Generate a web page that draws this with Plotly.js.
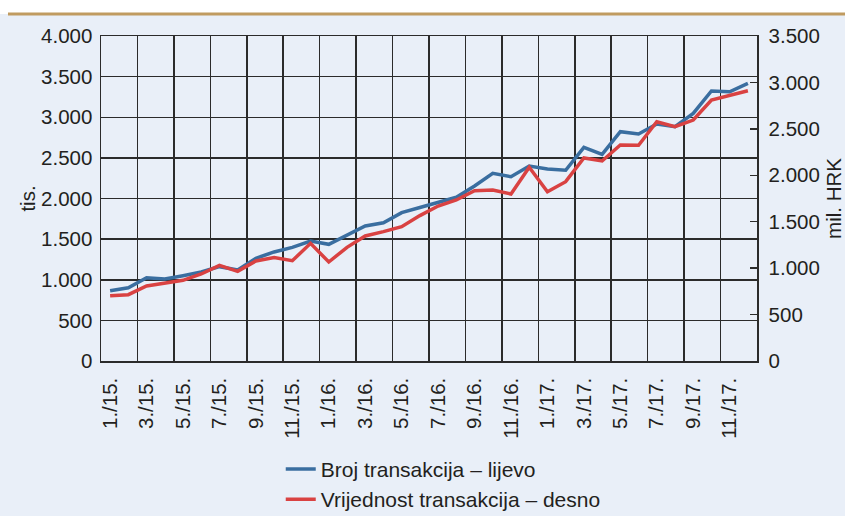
<!DOCTYPE html>
<html>
<head>
<meta charset="utf-8">
<script src="https://cdn.plot.ly/plotly-3.0.1.min.js"></script>
<style>
  html, body { margin: 0; padding: 0; background: #e9eff8; }
  #chart { width: 845px; height: 516px; }
</style>
</head>
<body>
<div id="chart"></div>
<script>
// Month labels (1./15. ... 12./17.)
const months = [
  "1./15.","2./15.","3./15.","4./15.","5./15.","6./15.","7./15.","8./15.","9./15.","10./15.","11./15.","12./15.",
  "1./16.","2./16.","3./16.","4./16.","5./16.","6./16.","7./16.","8./16.","9./16.","10./16.","11./16.","12./16.",
  "1./17.","2./17.","3./17.","4./17.","5./17.","6./17.","7./17.","8./17.","9./17.","10./17.","11./17.","12./17."
];
// Broj transakcija (tis.) – left axis
const brojTransakcija = [
  865, 902, 1025, 1009, 1050, 1095, 1161, 1120, 1265, 1342, 1399, 1477,
  1436, 1551, 1662, 1702, 1826, 1889, 1953, 2015, 2154, 2310, 2268, 2400,
  2363, 2347, 2630, 2544, 2822, 2794, 2917, 2884, 3048, 3323, 3314, 3418
];
// Vrijednost transakcija (mil. HRK) – right axis
const vrijednostTransakcija = [
  703, 714, 808, 840, 869, 937, 1030, 966, 1077, 1115, 1080, 1267,
  1066, 1224, 1346, 1393, 1446, 1566, 1669, 1734, 1834, 1841, 1798, 2086,
  1823, 1931, 2186, 2154, 2326, 2323, 2577, 2523, 2595, 2811, 2865, 2911
];
const seriesNames = ["Broj transakcija – lijevo", "Vrijednost transakcija – desno"];
const leftTitle = "tis.";
const rightTitle = "mil. HRK";

const idx = months.map((_, i) => i);
const majorVals = idx.filter(i => i % 2 === 0);
const majorText = majorVals.map(i => months[i]);
const boundaryVals = majorVals.map(i => i - 0.5);

const FONT = "Liberation Sans, Arial, Helvetica, sans-serif";
const TXT = "#231f20";
const GRID = "#2b2b2b";
const BG = "#e9eff8";

const traces = [
  {
    x: idx, y: brojTransakcija, name: seriesNames[0], type: "scatter", mode: "lines",
    line: { color: "#3a6ea0", width: 3.5 }, yaxis: "y", legendgroup: "a"
  },
  {
    x: idx, y: vrijednostTransakcija, name: seriesNames[1], type: "scatter", mode: "lines",
    line: { color: "#d94242", width: 3.5 }, yaxis: "y2", legendgroup: "b"
  }
];

const layout = {
  width: 845, height: 516,
  margin: { l: 101, r: 88, t: 36, b: 155, pad: 0, autoexpand: false },
  paper_bgcolor: BG, plot_bgcolor: BG,
  separators: ",.",
  font: { family: FONT, size: 20.5, color: TXT },
  showlegend: true,
  legend: {
    orientation: "v", x: 0.274, xanchor: "left", y: -0.27, yanchor: "top",
    bgcolor: "rgba(0,0,0,0)", font: { family: FONT, size: 21, color: TXT },
    traceorder: "grouped", tracegroupgap: 0
  },
  xaxis: {
    range: [-0.5, months.length - 0.5],
    tickmode: "array", tickvals: majorVals, ticktext: majorText,
    tickangle: -90, ticks: "", ticklabelstandoff: 7,
    showgrid: false, zeroline: false,
    showline: true, mirror: true, linecolor: GRID, linewidth: 1.5,
    minor: { tickmode: "array", tickvals: boundaryVals, showgrid: true, gridcolor: GRID, gridwidth: 1.5, ticks: "" },
    tickfont: { family: FONT, size: 20.5, color: TXT },
    automargin: false, fixedrange: true
  },
  yaxis: {
    range: [0, 4000], tickmode: "linear", tick0: 0, dtick: 500,
    separatethousands: true, ticks: "", ticklabelstandoff: 3,
    showgrid: true, gridcolor: GRID, gridwidth: 1.5, zeroline: false,
    showline: true, linecolor: GRID, linewidth: 1.5,
    title: { text: leftTitle, font: { family: FONT, size: 20.5, color: TXT }, standoff: 0 },
    tickfont: { family: FONT, size: 20.5, color: TXT },
    automargin: false, fixedrange: true
  },
  yaxis2: {
    range: [0, 3500], tickmode: "linear", tick0: 0, dtick: 500,
    separatethousands: true, overlaying: "y", side: "right",
    ticks: "inside", ticklen: 7, tickwidth: 1.5, tickcolor: GRID, ticklabelstandoff: 6,
    showgrid: false, zeroline: false,
    showline: true, linecolor: GRID, linewidth: 1.5,
    title: { text: rightTitle, font: { family: FONT, size: 20.5, color: TXT }, standoff: 24 },
    tickfont: { family: FONT, size: 20.5, color: TXT },
    automargin: false, fixedrange: true
  },
  shapes: [
    { type: "rect", xref: "paper", yref: "paper", x0: -0.2, x1: 1.2, y0: 1.0677, y1: 1.2,
      fillcolor: "#ffffff", line: { width: 0 }, layer: "below" },
    { type: "line", xref: "paper", yref: "paper", x0: -0.1418, x1: 1.2, y0: 1.0677, y1: 1.0677,
      line: { color: "#c09b60", width: 3 } }
  ]
};

Plotly.newPlot("chart", traces, layout, { displayModeBar: false, staticPlot: true });
</script>
</body>
</html>
